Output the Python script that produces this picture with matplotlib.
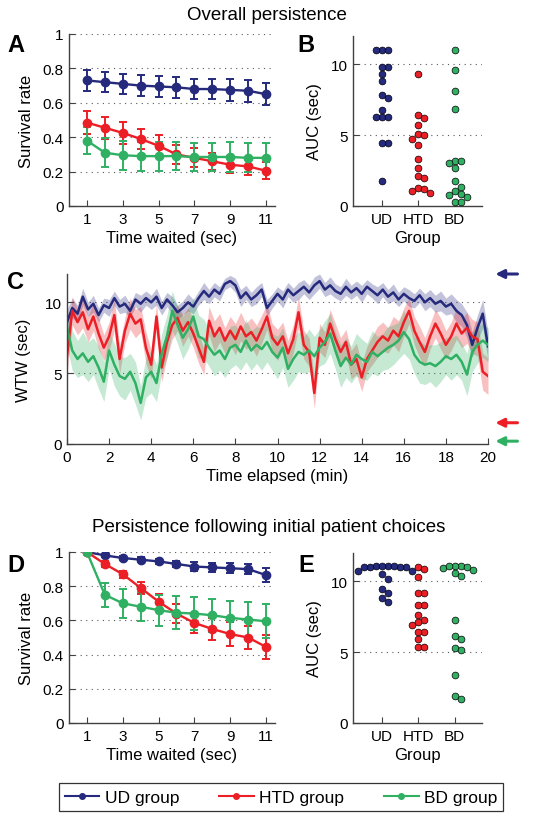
import numpy as np
import matplotlib
matplotlib.use("Agg")
import matplotlib.pyplot as plt
from matplotlib.lines import Line2D

plt.rcParams['font.family'] = ['Liberation Sans', 'DejaVu Sans']

# ---------------- data ----------------
groups = ["UD", "HTD", "BD"]
legend_labels = ["UD group", "HTD group", "BD group"]
colors = ["#252a7c", "#ec1f26", "#2fb063"]

time_waited = [1, 2, 3, 4, 5, 6, 7, 8, 9, 10, 11]

# panel A: overall survival
surv_ud = [0.73, 0.72, 0.71, 0.70, 0.695, 0.69, 0.68, 0.68, 0.675, 0.67, 0.65]
surv_ud_err = [0.06, 0.06, 0.06, 0.06, 0.06, 0.06, 0.06, 0.06, 0.065, 0.065, 0.065]
surv_htd = [0.485, 0.455, 0.425, 0.39, 0.35, 0.30, 0.28, 0.26, 0.24, 0.23, 0.205]
surv_htd_err = [0.065, 0.065, 0.065, 0.06, 0.06, 0.055, 0.055, 0.05, 0.05, 0.05, 0.05]
surv_bd = [0.38, 0.31, 0.295, 0.29, 0.29, 0.29, 0.285, 0.285, 0.285, 0.28, 0.28]
surv_bd_err = [0.08, 0.085, 0.085, 0.085, 0.085, 0.08, 0.08, 0.08, 0.085, 0.085, 0.085]

# panel B: AUC per subject
auc_ud = [11.0, 11.0, 11.0, 9.8, 9.8, 9.3, 8.8, 7.85, 7.6, 6.75, 6.3, 6.3, 6.3, 4.45, 4.45, 1.8]
auc_htd = [9.3, 6.45, 6.2, 5.7, 5.1, 5.0, 4.7, 4.3, 3.3, 2.65, 2.1, 1.95, 1.3, 1.2, 1.05, 0.95]
auc_bd = [11.0, 9.6, 8.15, 6.85, 3.15, 3.15, 3.05, 2.7, 1.75, 1.35, 1.05, 0.85, 0.8, 0.65, 0.3, 0.3]

# panel C: willingness to wait over the session (every 0.25 min)
time_elapsed = np.arange(0, 20.01, 0.25)
wtw_ud = [8.6, 9.6, 9.2, 10.4, 9.5, 9.9, 9.1, 9.8, 9.6, 10.3,
          9.7, 9.9, 9.4, 10.2, 9.9, 10.3, 10.0, 10.4, 9.6, 10.2,
          9.8, 9.3, 9.6, 10.0, 9.7, 10.3, 10.8, 10.4, 10.9, 10.6,
          11.3, 11.5, 11.2, 10.3, 10.7, 10.2, 10.5, 10.9, 9.6, 10.1,
          10.6, 10.2, 10.9, 10.5, 10.8, 11.1, 10.7, 11.2, 11.5, 10.9,
          11.2, 10.8, 10.6, 11.1, 10.7, 11.0, 10.6, 11.1, 10.8, 10.5,
          10.9, 10.4, 10.7, 10.2, 10.6, 10.3, 10.1, 10.5, 10.0, 10.3,
          9.9, 10.1, 9.7, 9.9, 9.4, 9.1, 8.4, 7.0, 8.2, 9.2,
          6.9]
wtw_htd = [6.2, 9.4, 8.6, 9.3, 8.1, 9.0, 7.8, 6.8, 7.6, 9.1,
           6.0, 8.0, 9.2, 8.5, 8.8, 6.8, 5.6, 9.0, 5.4, 7.2,
           8.4, 8.9, 8.0, 8.6, 7.8, 6.8, 5.8, 8.7, 7.6, 8.2,
           7.3, 8.0, 7.4, 8.3, 7.6, 7.9, 7.3, 8.1, 9.0, 7.5,
           7.0, 7.6, 6.4, 7.4, 9.3, 7.0, 6.5, 3.6, 7.5, 7.0,
           8.5, 7.4, 6.5, 7.2, 5.6, 6.0, 4.7, 6.0, 6.6, 7.2,
           7.6, 7.3, 8.0, 7.6, 8.6, 9.4, 8.0, 7.2, 6.5, 7.6,
           8.5, 7.8, 7.0, 7.6, 8.5, 7.8, 8.2, 7.6, 7.4, 5.1,
           4.8]
wtw_bd = [8.2, 6.6, 6.0, 6.4, 5.8, 6.2, 5.4, 4.4, 6.6, 5.6,
          4.8, 4.6, 5.1, 4.3, 2.9, 4.7, 5.1, 4.3, 6.4, 7.6,
          9.4, 8.4, 7.5, 8.1, 9.0, 7.6, 7.4, 6.8, 6.3, 6.6,
          6.0, 6.8, 7.0, 6.5, 7.3, 6.6, 7.0, 6.7, 7.2, 6.5,
          6.1, 6.8, 5.3, 6.0, 6.5, 6.3, 6.6, 6.2, 6.8, 7.2,
          7.8, 6.6, 5.5, 6.1, 5.6, 6.3, 6.0, 5.8, 6.5, 6.2,
          6.5, 6.8, 7.0, 7.3, 7.9, 7.4, 6.3, 5.8, 5.6, 5.7,
          5.5, 5.8, 6.2, 6.0, 6.3, 5.8, 4.9, 6.5, 7.0, 7.3,
          7.0]
wtw_ud_se = [0.9, 0.7, 0.6, 0.6, 0.5, 0.6, 0.5, 0.5, 0.6, 0.5,
             0.5, 0.6, 0.5, 0.5, 0.6, 0.5, 0.5, 0.6, 0.5, 0.5,
             0.6, 0.5, 0.5, 0.6, 0.5, 0.5, 0.6, 0.5, 0.5, 0.5,
             0.4, 0.4, 0.5, 0.6, 0.5, 0.5, 0.6, 0.5, 0.6, 0.5,
             0.5, 0.6, 0.5, 0.5, 0.6, 0.5, 0.5, 0.6, 0.5, 0.5,
             0.6, 0.5, 0.5, 0.6, 0.5, 0.5, 0.6, 0.5, 0.5, 0.6,
             0.5, 0.5, 0.6, 0.5, 0.5, 0.6, 0.5, 0.5, 0.6, 0.6,
             0.6, 0.7, 0.6, 0.7, 0.8, 0.8, 0.9, 0.9, 0.9, 1.0,
             1.0]
wtw_htd_se = [1.2, 1.0, 0.9, 1.1, 0.9, 1.0, 1.1, 0.9, 1.0, 1.1,
              1.0, 0.9, 1.1, 1.0, 0.9, 1.1, 1.0, 0.9, 1.0, 1.1,
              1.0, 0.9, 1.1, 1.0, 1.0, 1.1, 0.9, 1.0, 1.1, 1.0,
              0.9, 1.0, 1.1, 1.0, 0.9, 1.0, 1.1, 1.0, 0.9, 1.0,
              1.1, 1.0, 0.9, 1.0, 1.1, 1.0, 1.0, 1.1, 1.0, 0.9,
              1.0, 1.1, 1.0, 0.9, 1.0, 1.1, 1.0, 0.9, 1.0, 1.1,
              1.0, 0.9, 1.0, 1.1, 1.0, 0.9, 1.0, 1.1, 1.0, 0.9,
              1.0, 1.1, 1.0, 1.0, 1.1, 1.0, 1.1, 1.2, 1.2, 1.3,
              1.3]
wtw_bd_se = [1.3, 1.4, 1.3, 1.5, 1.4, 1.3, 1.5, 1.4, 1.3, 1.5,
             1.4, 1.5, 1.3, 1.5, 1.2, 1.4, 1.5, 1.3, 1.4, 1.5,
             1.4, 1.3, 1.5, 1.4, 1.3, 1.5, 1.4, 1.3, 1.5, 1.4,
             1.3, 1.5, 1.4, 1.3, 1.5, 1.4, 1.3, 1.5, 1.4, 1.3,
             1.5, 1.4, 1.3, 1.5, 1.4, 1.3, 1.5, 1.4, 1.3, 1.5,
             1.4, 1.3, 1.5, 1.4, 1.3, 1.5, 1.4, 1.3, 1.5, 1.4,
             1.3, 1.5, 1.4, 1.3, 1.5, 1.4, 1.3, 1.5, 1.4, 1.3,
             1.5, 1.4, 1.3, 1.5, 1.4, 1.3, 1.5, 1.4, 1.3, 1.2,
             1.2]
optimal_wtw = [12.0, 1.5, 0.2]   # arrows at right of panel C

# panel D: survival following initial patient choices
surv2_ud = [1.0, 0.98, 0.965, 0.955, 0.945, 0.93, 0.915, 0.91, 0.905, 0.90, 0.865]
surv2_ud_err = [0.0, 0.01, 0.01, 0.015, 0.015, 0.02, 0.025, 0.025, 0.03, 0.03, 0.04]
surv2_htd = [1.0, 0.93, 0.87, 0.79, 0.71, 0.64, 0.585, 0.55, 0.52, 0.50, 0.445]
surv2_htd_err = [0.0, 0.015, 0.02, 0.035, 0.045, 0.055, 0.06, 0.065, 0.07, 0.07, 0.07]
surv2_bd = [1.0, 0.75, 0.70, 0.68, 0.66, 0.645, 0.64, 0.63, 0.615, 0.605, 0.595]
surv2_bd_err = [0.0, 0.07, 0.085, 0.085, 0.09, 0.095, 0.095, 0.095, 0.1, 0.1, 0.1]

# panel E: AUC per subject
auc2_ud = [11.05, 11.05, 11.0, 11.05, 11.0, 11.0, 11.0, 11.05, 10.75, 10.7, 10.5, 10.2, 9.45, 9.2, 8.8, 8.55]
auc2_htd = [11.0, 10.9, 10.3, 9.2, 9.2, 8.3, 8.3, 7.6, 7.3, 7.15, 6.9, 6.45, 6.45, 5.9, 5.4, 5.4]
auc2_bd = [11.05, 11.0, 10.95, 11.05, 11.05, 10.8, 10.6, 10.35, 7.3, 6.15, 5.95, 5.3, 5.15, 3.4, 1.9, 1.7]


W, H = 536, 820
fig = plt.figure(figsize=(W / 100, H / 100), dpi=100)


def px_axes(left, right, top, bottom):
    return fig.add_axes([left / W, 1 - bottom / H, (right - left) / W, (bottom - top) / H])


def style_axes(ax):
    for s in ["top", "right"]:
        ax.spines[s].set_visible(False)
    for s in ["left", "bottom"]:
        ax.spines[s].set_color("0.25")
        ax.spines[s].set_linewidth(1.0)
    ax.tick_params(direction="in", length=4, width=0.8, color="0.25", labelsize=11, pad=4)


def dotted_grid(ax, levels, xmin, xmax):
    for lv in levels:
        ax.plot([xmin, xmax], [lv, lv], color="0.35", lw=0.8, ls=(0, (1, 4)), zorder=0)


def swarm_offsets(values, px_per_y, diam):
    # simple beeswarm: place each point at the smallest free offset (pixels)
    order = np.argsort(values)[::-1]
    placed = []
    offs = np.zeros(len(values))
    cands = [0]
    for k in range(1, 12):
        cands += [k * diam, -k * diam]
    for i in order:
        yi = values[i] * px_per_y
        for c in cands:
            ok = True
            for (xo, yo) in placed:
                if (c - xo) ** 2 + (yi - yo) ** 2 < (diam * 0.95) ** 2:
                    ok = False
                    break
            if ok:
                offs[i] = c
                placed.append((c, yi))
                break
    return offs


def survival_panel(ax, series, errs):
    for vals, err, c in zip(series, errs, colors):
        ax.errorbar(time_waited, vals, yerr=err, color=c, lw=1.7, elinewidth=1.4,
                    capsize=3, capthick=1.4, marker="o", ms=6, mfc=c, mec=c, zorder=3)
    ax.set_xlim(0, 11.5)
    ax.set_ylim(0, 1)
    ax.set_xticks([1, 3, 5, 7, 9, 11])
    ax.set_yticks([0, 0.2, 0.4, 0.6, 0.8, 1])
    ax.set_yticklabels(["0", "0.2", "0.4", "0.6", "0.8", "1"])
    dotted_grid(ax, [0.2, 0.4, 0.6, 0.8, 1.0], 0, 11.5)
    ax.set_xlabel("Time waited (sec)", fontsize=12, labelpad=3)
    ax.set_ylabel("Survival rate", fontsize=12, labelpad=6)
    style_axes(ax)


def auc_panel(ax, sets):
    px_x = 36.5
    px_y = 14.2
    for k, (vals, c) in enumerate(zip(sets, colors)):
        offs = swarm_offsets(np.array(vals), px_y, 6.0)
        ax.scatter(k + 1 + offs / px_x, vals, s=24, color=c, edgecolor="k",
                   linewidth=0.5, zorder=3, clip_on=False)
    ax.set_xlim(0.2, 3.75)
    ax.set_ylim(0, 12)
    ax.set_xticks([1, 2, 3])
    ax.set_xticklabels(groups)
    ax.set_yticks([0, 5, 10])
    dotted_grid(ax, [5, 10], 0.2, 3.75)
    ax.set_xlabel("Group", fontsize=12, labelpad=3)
    ax.set_ylabel("AUC (sec)", fontsize=12, labelpad=6)
    style_axes(ax)


# ---- A ----
axA = px_axes(69, 275, 35, 207)
survival_panel(axA, [surv_ud, surv_htd, surv_bd], [surv_ud_err, surv_htd_err, surv_bd_err])

# ---- B ----
axB = px_axes(353, 482, 37, 207)
auc_panel(axB, [auc_ud, auc_htd, auc_bd])

# ---- C ----
axC = px_axes(67, 488, 275, 445)
for m, se, c in zip([wtw_ud, wtw_htd, wtw_bd], [wtw_ud_se, wtw_htd_se, wtw_bd_se], colors):
    m = np.array(m)
    se = np.array(se)
    axC.fill_between(time_elapsed, m - se, m + se, color=c, alpha=0.28, lw=0, zorder=1)
    axC.plot(time_elapsed, m, color=c, lw=1.8, zorder=2)
axC.set_xlim(0, 20)
axC.set_ylim(0, 12)
axC.set_xticks(range(0, 21, 2))
axC.set_yticks([0, 5, 10])
dotted_grid(axC, [5, 10], 0, 20)
axC.set_xlabel("Time elapsed (min)", fontsize=12, labelpad=3)
axC.set_ylabel("WTW (sec)", fontsize=12, labelpad=10)
style_axes(axC)
for val, c in zip(optimal_wtw, colors):
    axC.annotate("", xy=(20.35, val), xytext=(21.4, val), annotation_clip=False,
                 arrowprops=dict(arrowstyle="-|>,head_length=0.5,head_width=0.25",
                                 color=c, lw=2.2, shrinkA=0, shrinkB=0))

# ---- D ----
axD = px_axes(69, 275, 553, 724)
survival_panel(axD, [surv2_ud, surv2_htd, surv2_bd], [surv2_ud_err, surv2_htd_err, surv2_bd_err])

# ---- E ----
axE = px_axes(353, 482, 554, 724)
auc_panel(axE, [auc2_ud, auc2_htd, auc2_bd])

# titles and panel letters
fig.text(267 / W, 1 - 15 / H, "Overall persistence", ha="center", va="center", fontsize=13.5)
fig.text(269 / W, 1 - 527 / H, "Persistence following initial patient choices",
         ha="center", va="center", fontsize=13.5)
for letter, x, y in [("A", 16, 45), ("B", 306, 45), ("C", 16, 283), ("D", 16, 566), ("E", 306, 566)]:
    fig.text(x / W, 1 - y / H, letter, ha="center", va="center", fontsize=17, fontweight="bold")

# legend
handles = [Line2D([], [], color=c, lw=1.5, marker="o", ms=4) for c in colors]
leg = fig.legend(handles, legend_labels, loc="center", bbox_to_anchor=(281 / W, 1 - 798 / H),
                 ncol=3, fontsize=12.5, frameon=True, fancybox=False, edgecolor="k",
                 handlelength=2.0, columnspacing=2.3, handletextpad=0.3, borderpad=0.35,
                 borderaxespad=0)
leg.get_frame().set_linewidth(0.9)

fig.savefig("out.png", dpi=100)
